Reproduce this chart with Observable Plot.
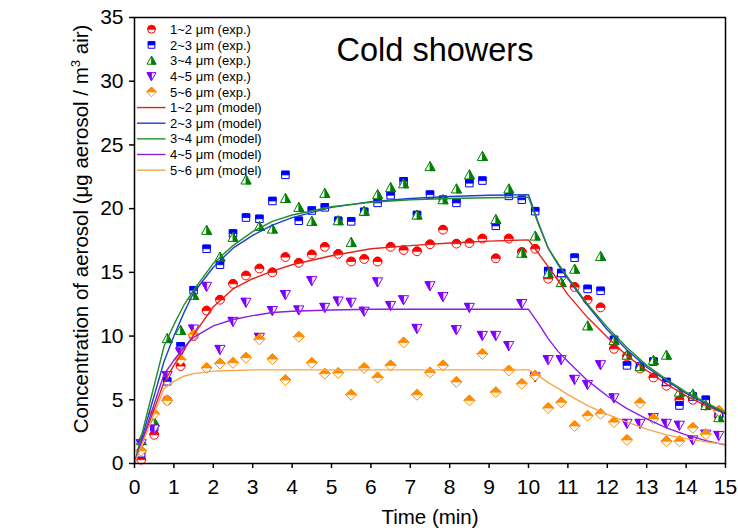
<!DOCTYPE html>
<html>
<head>
<meta charset="utf-8">
<script src="https://cdn.jsdelivr.net/npm/d3@7"></script>
<script src="https://cdn.jsdelivr.net/npm/@observablehq/plot@0.6"></script>
<style>
  html, body { margin: 0; padding: 0; background: #ffffff; }
  #chart { width: 738px; height: 532px; }
</style>
</head>
<body>
<div id="chart"></div>
<script>
// ---------- data ----------
const expTime = [0.17,0.5,0.83,1.17,1.5,1.83,2.17,2.5,2.83,3.17,3.5,3.83,4.17,4.5,4.83,5.17,5.5,5.83,6.17,6.5,6.83,7.17,7.5,7.83,8.17,8.5,8.83,9.17,9.5,9.83,10.17,10.5,10.83,11.17,11.5,11.83,12.17,12.5,12.83,13.17,13.5,13.83,14.17,14.5,14.83];
const exp12 = [0.3,2.25,4.95,7.65,10.0,12.0,12.85,14.1,14.75,15.3,15.0,16.2,15.75,16.4,17.0,16.45,15.85,16.05,15.85,17.0,16.75,16.65,17.2,18.35,17.25,17.3,17.65,16.1,17.65,16.6,16.85,14.5,14.65,13.85,12.85,12.25,9.0,8.4,7.45,6.75,6.1,5.0,5.0,4.55,3.7];
const exp23 = [0.8,2.85,6.45,9.2,13.6,16.85,15.6,18.05,19.3,19.2,20.6,22.65,19.05,19.85,20.1,19.05,19.0,19.75,20.45,21.05,22.15,19.5,21.1,20.7,20.45,22.0,22.2,18.65,21.0,20.7,19.8,15.1,14.95,16.15,13.7,13.55,9.7,7.7,7.6,8.0,6.4,4.55,5.25,5.0,3.9];
const exp34 = [1.8,3.25,9.8,10.45,13.2,18.3,16.2,17.75,22.25,18.6,18.4,20.8,20.1,19.0,21.2,19.05,17.35,19.8,21.1,21.65,21.95,19.5,23.3,20.7,21.55,22.65,24.1,19.15,21.55,16.5,17.85,14.9,14.2,15.25,10.8,16.25,9.65,8.5,7.6,8.1,8.5,5.6,5.45,4.55,3.6];
const exp45 = [1.55,2.7,6.9,8.75,10.55,13.9,8.95,11.15,12.65,9.9,12.0,13.25,12.05,14.35,12.25,12.75,12.65,11.95,14.25,12.4,12.85,10.6,13.95,13.1,10.5,12.25,10.05,10.05,9.25,12.55,6.8,8.15,8.15,6.6,6.2,7.75,5.15,3.15,3.15,3.6,3.15,3.0,1.85,2.3,2.2];
const exp56 = [1.0,3.9,4.95,8.15,10.1,7.5,7.85,7.9,8.3,9.75,8.2,6.55,9.95,7.9,7.05,7.1,5.4,7.5,6.75,7.7,9.5,5.4,7.15,7.7,6.4,4.95,8.6,5.6,7.3,6.25,6.9,4.35,4.8,2.95,3.75,3.9,3.25,1.85,4.75,3.5,1.75,1.75,2.8,2.3,4.15];

const modelTime = [0,0.75,1,1.25,1.5,2,2.5,3,3.5,4,5,6,7,8,9,10,10.25,10.5,10.75,11,11.5,12,12.5,13,13.5,14,14.5,15];
const model12 = [0,6.4,7.7,8.9,10.1,12.3,13.7,14.5,15.1,15.6,16.3,16.85,17.1,17.3,17.45,17.55,16.5,15.45,14.35,13.25,11.45,9.9,8.45,7.3,6.25,5.3,4.55,3.9];
const model23 = [0,8.0,10.0,11.8,13.4,15.4,16.9,17.9,18.7,19.3,20.1,20.55,20.8,20.95,21.05,21.1,18.9,16.9,15.6,14.5,12.4,10.5,8.9,7.55,6.5,5.5,4.7,3.9];
const model34 = [0,9.2,10.9,12.4,13.6,15.7,17.1,18.2,19.0,19.5,20.15,20.5,20.7,20.8,20.85,20.9,18.8,16.9,15.7,14.6,12.5,10.7,9.1,7.7,6.6,5.6,4.8,4.0];
const model45 = [0,7.0,8.1,9.1,9.9,10.8,11.3,11.6,11.85,11.95,12.05,12.1,12.1,12.1,12.1,12.1,11.0,9.8,8.8,8.0,6.5,5.3,4.3,3.5,2.8,2.25,1.8,1.45];
const model56 = [0,5.9,6.45,6.85,7.05,7.25,7.3,7.35,7.35,7.35,7.35,7.35,7.35,7.35,7.35,7.35,6.9,6.35,5.9,5.4,4.55,3.85,3.25,2.7,2.25,1.95,1.7,1.5];

const expLabels = ["1~2 μm (exp.)","2~3 μm (exp.)","3~4 μm (exp.)","4~5 μm (exp.)","5~6 μm (exp.)"];
const modelLabels = ["1~2 μm (model)","2~3 μm (model)","3~4 μm (model)","4~5 μm (model)","5~6 μm (model)"];
const xTicks = [0,1,2,3,4,5,6,7,8,9,10,11,12,13,14,15];
const yTicks = [0,5,10,15,20,25,30,35];
const titleText = "Cold showers";
const xLabel = "Time (min)";

// ---------- styles ----------
const markerColors = ["#ff0000","#0000ff","#008000","#8000ff","#ff8c00"];
const lineColors = ["#e2231a","#1f3fd0","#1f8f2a","#8a1fe0","#f5a64a"];

// ---------- symbols (outline + filled half) ----------
function sym(fn){ return {draw(ctx, size){ const r = Math.sqrt(size/Math.PI); fn(ctx, r); }}; }
function poly(ctx, pts){ ctx.moveTo(pts[0][0],pts[0][1]); for (let i=1;i<pts.length;i++) ctx.lineTo(pts[i][0],pts[i][1]); ctx.closePath(); }
const outlines = [
  sym((c,r)=>{ c.moveTo(r,0); c.arc(0,0,r,0,2*Math.PI); c.closePath(); }),
  sym((c,r)=>{ const s=r*0.85; c.rect(-s,-s,2*s,2*s); }),
  sym((c,r)=>{ const h=r*1.15; poly(c,[[0,-h],[h,h*0.8],[-h,h*0.8]]); }),
  sym((c,r)=>{ const h=r*1.15; poly(c,[[-h,-h*0.8],[h,-h*0.8],[0,h]]); }),
  sym((c,r)=>{ const d=r*1.25; poly(c,[[0,-d],[d,0],[0,d],[-d,0]]); })
];
const halves = [
  sym((c,r)=>{ c.moveTo(-r,0); c.arc(0,0,r,Math.PI,2*Math.PI); c.closePath(); }),
  sym((c,r)=>{ const s=r*0.85; c.rect(-s,-s,2*s,s); }),
  sym((c,r)=>{ const h=r*1.15; poly(c,[[0,-h],[h,h*0.8],[0,h*0.8]]); }),
  sym((c,r)=>{ const h=r*1.15; poly(c,[[-h,-h*0.8],[0,-h*0.8],[0,h]]); }),
  sym((c,r)=>{ const d=r*1.25; poly(c,[[0,-d],[d,0],[-d,0]]); })
];

const expSeries = [exp12, exp23, exp34, exp45, exp56];
const modelSeries = [model12, model23, model34, model45, model56];
const R = 4.4;
const RL = 3.9;

const marks = [];
expSeries.forEach((vals, i) => {
  const data = expTime.map((t, k) => ({t, v: vals[k]}));
  marks.push(Plot.dot(data, {x: "t", y: "v", symbol: outlines[i], r: R, fill: "white", stroke: markerColors[i], strokeWidth: 1}));
  marks.push(Plot.dot(data, {x: "t", y: "v", symbol: halves[i], r: R, fill: markerColors[i], stroke: markerColors[i], strokeWidth: 0.8}));
});
modelSeries.forEach((vals, i) => {
  const data = modelTime.map((t, k) => ({t, v: vals[k]}));
  marks.push(Plot.line(data, {x: "t", y: "v", stroke: lineColors[i], strokeWidth: 1.4}));
});
marks.push(Plot.frame({stroke: "black", strokeWidth: 1.5}));
marks.push(Plot.axisX({ticks: xTicks, tickSize: 5, tickPadding: 11, label: null, strokeWidth: 1.5, tickFormat: d => String(d)}));
marks.push(Plot.axisY({ticks: yTicks, tickSize: 5, tickPadding: 6, label: null, strokeWidth: 1.5, tickFormat: d => String(d)}));

const plot = Plot.plot({
  width: 738,
  height: 532,
  marginLeft: 134,
  marginRight: 13,
  marginTop: 17,
  marginBottom: 69,
  x: {domain: [0, 15]},
  y: {domain: [0, 35]},
  style: {fontFamily: "'Liberation Sans', Arial, sans-serif", fontSize: "21px", color: "black", background: "white"},
  marks
});
document.getElementById("chart").appendChild(plot);

// ---------- title, axis labels, legend ----------
const svg = d3.select(plot);
const font = "'Liberation Sans', Arial, sans-serif";

svg.append("text").attr("x", 435).attr("y", 61).attr("text-anchor", "middle")
  .attr("font-family", font).attr("font-size", 32.5).attr("fill", "black").text(titleText);

svg.append("text").attr("x", 430).attr("y", 524).attr("text-anchor", "middle")
  .attr("font-family", font).attr("font-size", 20.5).attr("fill", "black").text(xLabel);

const yl = svg.append("text").attr("transform", "translate(88,229) rotate(-90)").attr("text-anchor", "middle")
  .attr("font-family", font).attr("font-size", 20.5).attr("fill", "black");
yl.append("tspan").text("Concentration of aerosol (μg aerosol / m");
yl.append("tspan").attr("dy", -8).attr("font-size", 13).text("3");
yl.append("tspan").attr("dy", 8).text(" air)");

const leg = svg.append("g").attr("font-family", font).attr("font-size", 13).attr("fill", "black").attr("text-anchor", "start");
const rowY0 = 29.3, rowDy = 15.65;
expLabels.forEach((lab, i) => {
  const y = rowY0 + i*rowDy;
  const p1 = d3.path(); outlines[i].draw(p1, Math.PI*RL*RL);
  const p2 = d3.path(); halves[i].draw(p2, Math.PI*RL*RL);
  leg.append("path").attr("transform", `translate(151.5,${y})`).attr("d", p1.toString())
    .attr("fill", "white").attr("stroke", markerColors[i]).attr("stroke-width", 1);
  leg.append("path").attr("transform", `translate(151.5,${y})`).attr("d", p2.toString())
    .attr("fill", markerColors[i]).attr("stroke", markerColors[i]).attr("stroke-width", 0.8);
  leg.append("text").attr("x", 170).attr("y", y + 4.6).attr("text-anchor", "start").text(lab);
});
modelLabels.forEach((lab, i) => {
  const y = rowY0 + (i+5)*rowDy;
  leg.append("line").attr("x1", 137).attr("x2", 165.5).attr("y1", y).attr("y2", y)
    .attr("stroke", lineColors[i]).attr("stroke-width", 1.4);
  leg.append("text").attr("x", 170).attr("y", y + 4.6).attr("text-anchor", "start").text(lab);
});
</script>
</body>
</html>
